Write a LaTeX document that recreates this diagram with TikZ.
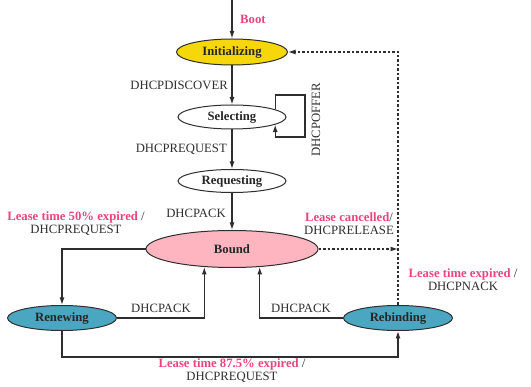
\documentclass[tikz,border=0pt]{standalone}
\usepackage{fontspec}
\setmainfont{Liberation Serif}
\usetikzlibrary{shapes.geometric,arrows.meta}
\definecolor{yel}{HTML}{F6D70A}
\definecolor{pinkfill}{HTML}{FFB5C0}
\definecolor{teal}{HTML}{4BA7C1}
\definecolor{pinktxt}{HTML}{E8457C}
\definecolor{ink}{HTML}{2E2E2E}
\begin{document}
\begin{tikzpicture}[x=1pt,y=-1pt,
  font=\fontsize{12.7}{13}\selectfont,
  state/.style={ellipse,draw=ink,line width=1pt,inner sep=0pt,font=\fontsize{12.7}{13}\selectfont\bfseries,text=black!85},
  conn/.style={draw=ink,line width=1.2pt,-{Latex[length=7.5pt,width=5pt]}},
  dashconn/.style={draw=ink,line width=1.3pt,dash pattern=on 2.5pt off 2pt,-{Latex[length=7.5pt,width=5pt]}},
  lbl/.style={text=ink,inner sep=0pt},
  plbl/.style={align=center,inner sep=0pt,text=ink}
]
\useasboundingbox (0,0) rectangle (531,387);
\node[state,fill=yel,minimum width=111pt,minimum height=26pt] (init) at (232,52) {Initializing};
\node[state,fill=white,minimum width=108pt,minimum height=24pt] (sel) at (232,117) {Selecting};
\node[state,fill=white,minimum width=108pt,minimum height=23pt] (req) at (232,181) {Requesting};
\node[state,fill=pinkfill,minimum width=172pt,minimum height=37pt] (bound) at (232,249) {Bound};
\node[state,fill=teal,minimum width=109pt,minimum height=25pt] (renew) at (62,318) {Renewing};
\node[state,fill=teal,minimum width=109pt,minimum height=25pt] (rebind) at (398,318) {Rebinding};

\coordinate (top) at (232,0);
\draw[conn] (top) -- (init.north);
\node[lbl,anchor=west,text=pinktxt,font=\fontsize{12.7}{13}\selectfont\bfseries] (boot) at (240,19) {Boot};

\draw[conn] (init.south) -- (sel.north);
\node[lbl,anchor=east] (disc) at (228,85) {DHCPDISCOVER};

\draw[conn] (sel.10) -- (sel.10 |- 0,95) -- (305,95) -- (305,137) -- (sel.-10 |- 0,137) -- (sel.-10);
\node[lbl,rotate=90] (offer) at (316,120) {DHCPOFFER};

\draw[conn] (sel.south) -- (req.north);
\node[lbl,anchor=east] (dreq) at (227,149) {DHCPREQUEST};

\draw[conn] (req.south) -- (bound.north);
\node[lbl,anchor=east] (dack) at (226,213) {DHCPACK};

\draw[conn] (bound.west) -| (renew.north);
\node[plbl] (l50) at (76,224) {\textcolor{pinktxt}{\bfseries Lease time 50\% expired} /\\DHCPREQUEST};

\draw[conn] (renew.east) -| (bound.213);
\node[lbl] (ack1) at (161,308) {DHCPACK};
\draw[conn] (rebind.west) -| (bound.-33);
\node[lbl] (ack2) at (301,308) {DHCPACK};

\draw[conn] (renew.south) -- ++(0,26) -| (rebind.south);
\node[plbl] (l875) at (232,371) {\textcolor{pinktxt}{\bfseries Lease time 87.5\% expired} /\\DHCPREQUEST};

\draw[dashconn] (bound.east) -- (bound.east -| rebind.north);
\draw[dashconn] (rebind.north) |- (init.east);
\node[plbl] (lc) at (349,224) {\textcolor{pinktxt}{\bfseries Lease cancelled}/\\DHCPRELEASE};
\node[plbl] (le) at (463,280) {\textcolor{pinktxt}{\bfseries Lease time expired} /\\DHCPNACK};
\end{tikzpicture}
\end{document}
